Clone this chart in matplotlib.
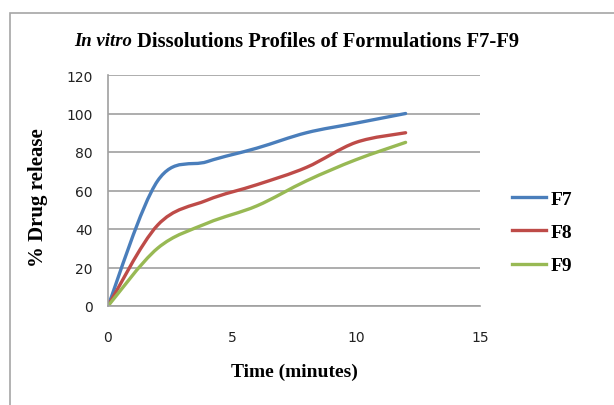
import numpy as np
import matplotlib.pyplot as plt
from matplotlib.path import Path
from matplotlib.patches import PathPatch, Rectangle
from matplotlib.lines import Line2D

time_min = [0, 2, 4, 6, 8, 10, 12]
f7 = [0, 65, 75, 82, 90, 95, 100]
f8 = [0, 42, 55, 63, 72, 85, 90]
f9 = [0, 30, 43, 52, 65, 76, 85]

series = [("F7", f7, "#4a7ebb"), ("F8", f8, "#be4b48"), ("F9", f9, "#98b954")]


def smooth_path(x, y):
    # excel-like smoothed line: cubic bezier through each point
    pts = np.column_stack([x, y]).astype(float)
    n = len(pts)
    verts = [pts[0]]
    codes = [Path.MOVETO]
    for i in range(n - 1):
        p0 = pts[i - 1] if i > 0 else pts[i]
        p1 = pts[i]
        p2 = pts[i + 1]
        p3 = pts[i + 2] if i + 2 < n else pts[i + 1]
        c1 = p1 + (p2 - p0) / 6.0
        c2 = p2 - (p3 - p1) / 6.0
        verts += [c1, c2, p2]
        codes += [Path.CURVE4] * 3
    return Path(verts, codes)


fig = plt.figure(figsize=(6.14, 4.06), dpi=100)
fig.patches.append(Rectangle((10 / 614, -0.1), 1.2, (406 - 14) / 406 + 0.1,
                             transform=fig.transFigure, fill=False,
                             edgecolor="#a6a6a6", linewidth=1.2))

ax = fig.add_axes([108 / 614, 99 / 406, 372 / 614, 231 / 406])
ax.set_xlim(0, 15)
ax.set_ylim(0, 120)
ax.set_xticks([0, 5, 10, 15])
ax.set_yticks(range(0, 121, 20))
ax.yaxis.grid(True, color="#a0a0a0", linewidth=1.2)
ax.set_axisbelow(True)
for s in ["top", "right"]:
    ax.spines[s].set_visible(False)
for s in ["left", "bottom"]:
    ax.spines[s].set_color("#a0a0a0")
    ax.spines[s].set_linewidth(1.2)
ax.tick_params(length=0, labelsize=10, labelcolor="#222222")
ax.tick_params(axis="x", pad=17)
ax.tick_params(axis="y", pad=11)

handles = []
for name, vals, col in series:
    ax.add_patch(PathPatch(smooth_path(time_min, vals), fill=False,
                           edgecolor=col, linewidth=2.4, capstyle="round"))
    handles.append(Line2D([], [], color=col, linewidth=2.4, label=name))

serif = "Liberation Serif"
fig.text(74 / 614, 1 - 42 / 406, "In vitro", family=serif, weight="bold",
         style="italic", fontsize=13.5, ha="left", va="center")
fig.text(137 / 614, 1 - 42 / 406, "Dissolutions Profiles of Formulations F7-F9",
         family=serif, weight="bold", fontsize=14.8, ha="left", va="center")

ax.set_xlabel("Time (minutes)", family=serif, weight="bold", fontsize=14,
              labelpad=14)
fig.text(38 / 614, 1 - 198 / 406, "% Drug release", family=serif, weight="bold",
         fontsize=15, rotation=90, ha="center", va="center")

leg = fig.legend(handles=handles, loc="upper left",
                 bbox_to_anchor=(494 / 614, 1 - 174 / 406), frameon=False,
                 prop={"family": serif, "weight": "bold", "size": 14},
                 handlelength=1.75, handletextpad=0.25, labelspacing=0.8)

fig.savefig("out.png", dpi=100)
